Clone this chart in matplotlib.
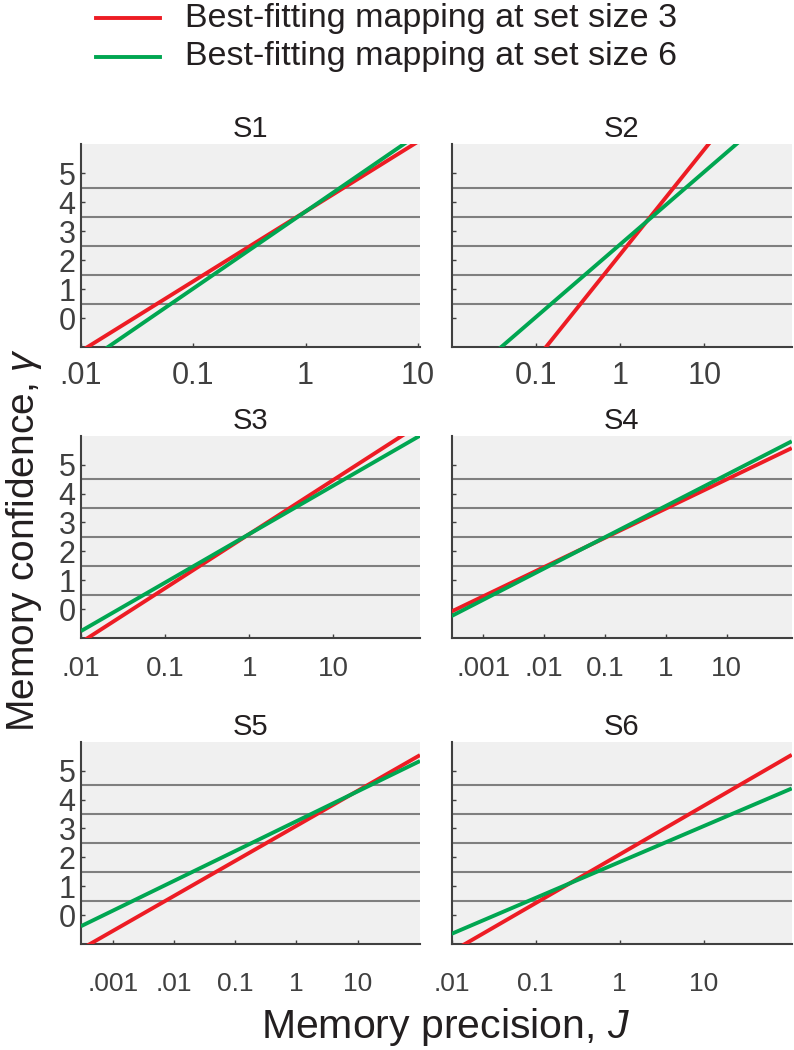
import numpy as np
import matplotlib
matplotlib.use("Agg")
import matplotlib.pyplot as plt
from matplotlib.ticker import FixedLocator, NullLocator

plt.rcParams['font.family'] = ['Liberation Sans', 'DejaVu Sans']
plt.rcParams['mathtext.fontset'] = 'custom'
plt.rcParams['mathtext.it'] = 'Liberation Sans:italic'
plt.rcParams['mathtext.rm'] = 'Liberation Sans'

# fitted mapping  gamma = a + b * log10(J)
subjects = ['S1', 'S2', 'S3', 'S4', 'S5', 'S6']
red_int = [3.68, 2.19, 2.60, 3.48, 3.09, 2.10]
red_slope = [2.41, 3.63, 1.87, 1.01, 1.21, 1.68]
green_int = [3.68, 2.54, 2.60, 3.57, 3.25, 1.84]
green_slope = [2.66, 2.51, 1.675, 1.08, 1.03, 1.24]

# x ranges (log10 J) and tick labels per panel
x_lo = [-2.0, -2.0, -2.0, -3.52, -3.52, -2.0]
x_hi = [1.02, 2.04, 2.03, 2.07, 2.02, 2.05]
xticks = [[0.01, 0.1, 1, 10], [0.1, 1, 10], [0.01, 0.1, 1, 10],
          [0.001, 0.01, 0.1, 1, 10], [0.001, 0.01, 0.1, 1, 10],
          [0.01, 0.1, 1, 10]]
xtick_labels = [['.01', '0.1', '1', '10'], ['0.1', '1', '10'],
                ['.01', '0.1', '1', '10'],
                ['.001', '.01', '0.1', '1', '10'],
                ['.001', '.01', '0.1', '1', '10'],
                ['.01', '0.1', '1', '10']]

conf_levels = [0, 1, 2, 3, 4, 5]
thresholds = [0.5, 1.5, 2.5, 3.5, 4.5]

RED = '#ed1c24'
GREEN = '#00a651'
AXC = '#404040'

fig = plt.figure(figsize=(7.94, 10.5), dpi=100)

col_x = [0.102, 0.5687]
col_w = [0.427, 0.4285]
row_y = [0.6695, 0.3921, 0.1007]
row_h = 0.193
xpad = [10, 13, 20]
xsize = [22, 20, 19]

for i, name in enumerate(subjects):
    r, c = divmod(i, 2)
    ax = fig.add_axes([col_x[c], row_y[r], col_w[c], row_h])
    ax.set_facecolor('#f0f0f0')
    ax.set_xscale('log')
    J = 10 ** np.array([x_lo[i], x_hi[i]])
    ax.set_xlim(J[0], J[1])
    ax.set_ylim(-1, 6)

    for t in thresholds:
        ax.axhline(t, color='#7f7f7f', lw=1.5, zorder=1)

    ax.plot(J, red_int[i] + red_slope[i] * np.log10(J), color=RED,
            lw=2.8, solid_capstyle='butt', zorder=3)
    ax.plot(J, green_int[i] + green_slope[i] * np.log10(J), color=GREEN,
            lw=2.8, solid_capstyle='butt', zorder=4)

    ax.set_title(name, fontsize=21, pad=5, color='#231f20')

    for s in ['top', 'right']:
        ax.spines[s].set_visible(False)
    for s in ['left', 'bottom']:
        ax.spines[s].set_color(AXC)
        ax.spines[s].set_linewidth(1.5)

    ax.xaxis.set_major_locator(FixedLocator(xticks[i]))
    ax.xaxis.set_minor_locator(NullLocator())
    ax.set_xticklabels(xtick_labels[i])
    ax.set_yticks(conf_levels)
    if c == 0:
        ax.set_yticklabels([str(v) for v in conf_levels])
    else:
        ax.set_yticklabels([])
    ax.tick_params(axis='x', direction='in', length=3, width=1, color=AXC,
                   labelcolor=AXC, labelsize=xsize[r], pad=xpad[r])
    ax.tick_params(axis='y', direction='in', length=3, width=1, color=AXC,
                   labelcolor=AXC, labelsize=22, pad=4)

# legend
fig.lines.append(plt.Line2D([96 / 794, 160 / 794], [1 - 18 / 1050] * 2,
                            color=RED, lw=2.8, transform=fig.transFigure))
fig.lines.append(plt.Line2D([96 / 794, 160 / 794], [1 - 57 / 1050] * 2,
                            color=GREEN, lw=2.8, transform=fig.transFigure))
fig.text(185 / 794, 1 - 18 / 1050, 'Best-fitting mapping at set size 3',
         fontsize=24.5, va='center', ha='left', color='#231f20')
fig.text(185 / 794, 1 - 57 / 1050, 'Best-fitting mapping at set size 6',
         fontsize=24.5, va='center', ha='left', color='#231f20')

fig.text(446 / 794, 1 - 1027 / 1050, 'Memory precision, $J$', fontsize=29.5,
         ha='center', va='center', color='#231f20')
fig.text(24 / 794, 1 - 540 / 1050, 'Memory confidence, $\\gamma$', fontsize=28,
         ha='center', va='center', rotation=90, color='#231f20')

fig.savefig('out.png', dpi=100)
